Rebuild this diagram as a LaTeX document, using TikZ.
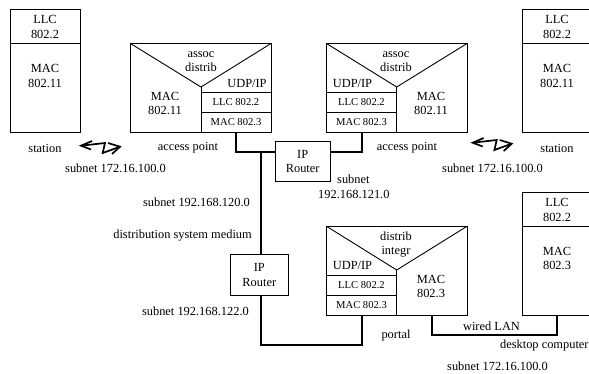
\documentclass[tikz,border=0pt]{standalone}
\usepackage{fontspec}
\setmainfont{Liberation Serif}
\tikzset{
  box/.style={draw,line width=0.9pt,inner sep=0,outer sep=0,fill=white},
  wire/.style={line width=1.7pt,line cap=butt,line join=miter},
  thin line/.style={line width=0.9pt},
  bolt/.style={line width=1.7pt,line join=miter},
  lab/.style={font=\fontsize{12.4}{14.4}\selectfont,align=center,inner sep=0},
  small/.style={font=\fontsize{10.6}{12}\selectfont,align=center,inner sep=0},
}
\begin{document}
\begin{tikzpicture}[x=1pt,y=-1pt]
\useasboundingbox (0,0) rectangle (589,373);
% station left
\node[box,anchor=north west,minimum width=70.5pt,minimum height=123pt] (st1) at (10,9) {};
\coordinate (st1d) at (10,43); \draw[thin line] (st1d) -- (80.5,43);
\node[lab] at (45,27) {LLC\\802.2};
\node[lab] at (45,76) {MAC\\802.11};
\node[lab] at (45,148) {station};
% station right
\draw[thin line] (589,9) -- (522,9) -- (522,132) -- (589,132);
\draw[thin line] (522,43) -- (589,43);
\node[lab] at (557,27) {LLC\\802.2};
\node[lab] at (557,76) {MAC\\802.11};
\node[lab] at (557,148) {station};
% AP1
\node[box,anchor=north west,minimum width=140.5pt,minimum height=88.5pt] (ap1) at (130.5,43.5) {};
\draw[thin line] (130.5,43.5) -- (201,87) -- (271,43.5);
\draw[thin line] (201,87) -- (201,132);
\draw[thin line] (201,92.5) -- (271,92.5);
\draw[thin line] (201,112.5) -- (271,112.5);
\node[lab] at (201,61.5) {assoc\\distrib};
\node[lab] at (165,103.5) {MAC\\802.11};
\node[lab] at (247,83) {UDP/IP};
\node[small] at (236,102.5) {LLC 802.2};
\node[small] at (236,122.5) {MAC 802.3};
\node[lab] at (188,148) {access point};
% AP2
\node[box,anchor=north west,minimum width=140.5pt,minimum height=88.5pt] (ap2) at (326.5,43.5) {};
\draw[thin line] (326.5,43.5) -- (396.7,87) -- (467,43.5);
\draw[thin line] (396.7,87) -- (396.7,132);
\draw[thin line] (326.5,92.5) -- (396.7,92.5);
\draw[thin line] (326.5,112.5) -- (396.7,112.5);
\node[lab] at (396,61.5) {assoc\\distrib};
\node[lab] at (431,103.5) {MAC\\802.11};
\node[lab] at (352.5,83) {UDP/IP};
\node[small] at (361.5,102.5) {LLC 802.2};
\node[small] at (361.5,122.5) {MAC 802.3};
\node[lab] at (407,148) {access point};
% Portal
\node[box,anchor=north west,minimum width=140.5pt,minimum height=89pt] (po) at (326.5,226.3) {};
\draw[thin line] (326.5,226.3) -- (396.7,270) -- (467,226.3);
\draw[thin line] (396.7,270) -- (396.7,315.3);
\draw[thin line] (326.5,275.3) -- (396.7,275.3);
\draw[thin line] (326.5,295.3) -- (396.7,295.3);
\node[lab] at (396,244.5) {distrib\\integr};
\node[lab] at (431,286.5) {MAC\\802.3};
\node[lab] at (352.5,265) {UDP/IP};
\node[small] at (361.5,285.5) {LLC 802.2};
\node[small] at (361.5,305.5) {MAC 802.3};
\node[lab] at (396,336) {portal};
% Desktop
\draw[thin line] (589,192) -- (522,192) -- (522,315.3) -- (589,315.3);
\draw[thin line] (522,226.3) -- (589,226.3);
\node[lab] at (557,210) {LLC\\802.2};
\node[lab] at (557,258.5) {MAC\\802.3};
\node[lab,anchor=east] at (588.8,346) {desktop computer};
% routers
\node[box,minimum width=54.5pt,minimum height=40pt,lab] (r1) at (302.7,161.5) {IP\\Router};
\node[box,minimum width=58.7pt,minimum height=41pt,lab] (r2) at (259.3,274.8) {IP\\Router};
% wires
\coordinate (ap1w) at (236,132);
\coordinate (ap2w) at (361.7,132);
\coordinate (pow) at (361.7,315.3);
\coordinate (pom) at (432,315.3);
\coordinate (dkw) at (557,315.3);
\draw[wire] (ap1w) |- (r1.west|-0,152);
\draw[wire] (ap2w) |- (r1.east|-0,152);
\draw[wire] (261.3,152) -- (261.3,254.3);
\draw[wire] (261.3,295.3) -- (261.3,345) -| (pow);
\draw[wire] (pom) |- (dkw|-0,334.7) -- (dkw);
% bolts
\draw[bolt] (92,141) -- (81,145.7) -- (91,149.5);
\draw[bolt] (81,145.7) -- (105,143) -- (102.7,153) -- (120,146.7);
\draw[bolt] (108,143) -- (120,146.7) -- (112,154);
\draw[bolt] (483.7,138) -- (472.7,142.7) -- (482.7,146.5);
\draw[bolt] (472.7,142.7) -- (496.7,140) -- (494.4,150) -- (511.7,143.7);
\draw[bolt] (499.7,140) -- (511.7,143.7) -- (503.7,151);
% labels
\node[lab,anchor=west] at (65,168) {subnet 172.16.100.0};
\node[lab,anchor=west] at (442,168) {subnet 172.16.100.0};
\node[lab,anchor=west] at (337,179) {subnet};
\node[lab,anchor=west] at (318,194) {192.168.121.0};
\node[lab,anchor=east] at (250,202) {subnet 192.168.120.0};
\node[lab,anchor=east] at (252,236) {distribution system medium};
\node[lab,anchor=east] at (249,311) {subnet 192.168.122.0};
\node[lab] at (491.5,326) {wired LAN};
\node[lab,anchor=west] at (447,366) {subnet 172.16.100.0};
\end{tikzpicture}
\end{document}
